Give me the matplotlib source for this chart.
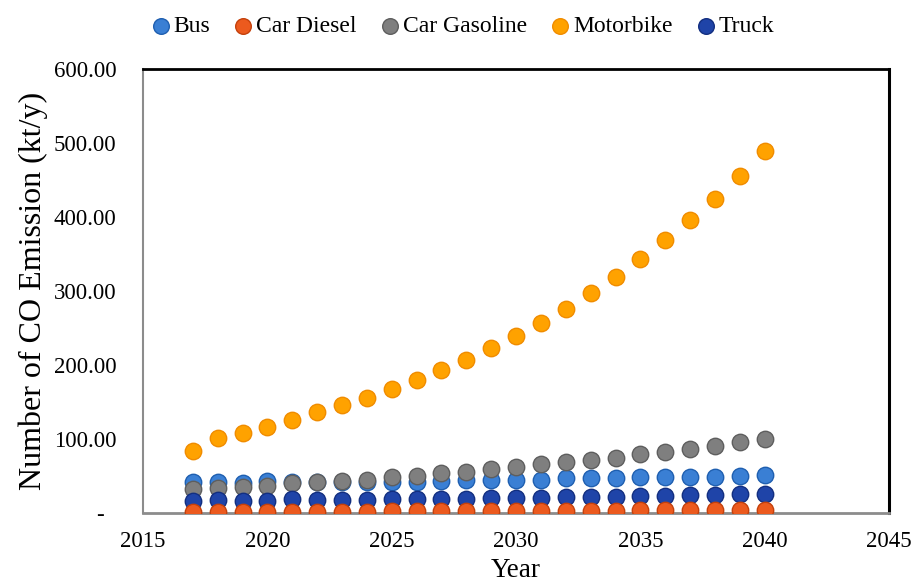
import matplotlib
matplotlib.use("Agg")
import matplotlib.pyplot as plt

plt.rcParams['font.family'] = ['Liberation Serif', 'DejaVu Serif']

years = list(range(2017, 2041))
bus = [42.5, 42.5, 41, 43, 42.5, 42.5, 42.5, 42.5, 42.5, 42.5, 43.5, 44.5,
       44.5, 44.5, 44.5, 47, 47, 47, 48, 48, 49, 49, 50, 51]
car_diesel = [2, 2, 2, 2, 2, 2, 2, 2, 2.5, 2.5, 2.5, 3,
              3, 3, 3, 3, 3, 3, 3.5, 3.5, 4.5, 4.5, 4.5, 4.5]
car_gasoline = [32.5, 34, 35.5, 37, 40, 42.5, 43, 44.5, 48, 50, 53.5, 55,
                59, 61.5, 66, 69, 71.5, 75, 79.5, 82.5, 87, 90.5, 95.5, 100]
motorbike = [84, 102, 108.5, 116.5, 126, 136, 145.5, 155.5, 168, 179.5, 193, 207,
             222.5, 239, 257, 276, 297.5, 318.5, 343, 369, 396, 425, 456, 490]
truck = [16.5, 17.5, 16.5, 16, 18.5, 17.5, 17.5, 17.5, 19, 18.5, 19, 19,
         20, 20.5, 20.5, 21, 22, 22, 23, 23.5, 24, 24.5, 25.5, 25.5]

x_ticks = [2015, 2020, 2025, 2030, 2035, 2040, 2045]
y_ticks = [0, 100, 200, 300, 400, 500, 600]
y_labels = ["-  ", "100.00", "200.00", "300.00", "400.00", "500.00", "600.00"]

series = [
    ("Bus", bus, "#3a7fd4", "#1f5fb0", 3),
    ("Car Diesel", car_diesel, "#ec5a1e", "#c4410c", 6),
    ("Car Gasoline", car_gasoline, "#7f7f7f", "#5e5e5e", 4),
    ("Motorbike", motorbike, "#ffa200", "#f08c00", 5),
    ("Truck", truck, "#1f44a8", "#132f80", 5),
]

fig = plt.figure(figsize=(9.11, 5.86), dpi=100)
ax = fig.add_axes([0.157, 0.1246, 0.819, 0.7574])

for name, vals, fc, ec, z in series:
    ax.scatter(years, vals, s=140, color=fc, edgecolors=ec, linewidths=1.0,
               label=name, zorder=z)

ax.set_xlim(2015, 2045)
ax.set_ylim(0, 600)
ax.set_xticks(x_ticks)
ax.set_yticks(y_ticks)
ax.set_yticklabels(y_labels)
ax.tick_params(axis='both', length=0, labelsize=16.5)
ax.tick_params(axis='y', pad=19)
ax.tick_params(axis='x', pad=13)

ax.spines['top'].set_color('black')
ax.spines['top'].set_linewidth(2.0)
ax.spines['right'].set_color('black')
ax.spines['right'].set_linewidth(2.2)
ax.spines['left'].set_color('#8c8c8c')
ax.spines['left'].set_linewidth(1.5)
ax.spines['bottom'].set_color('#8c8c8c')
ax.spines['bottom'].set_linewidth(2.0)

ax.set_xlabel("Year", fontsize=19.5, labelpad=4)
ax.set_ylabel("Number of CO Emission (kt/y)", fontsize=23, labelpad=4)

fig.legend(loc='upper center', bbox_to_anchor=(0.508, 1.01), ncol=5,
           frameon=False, fontsize=17, handlelength=0.8, handletextpad=0.15,
           columnspacing=1.0, markerscale=0.95)

fig.savefig("out.png", dpi=100)
